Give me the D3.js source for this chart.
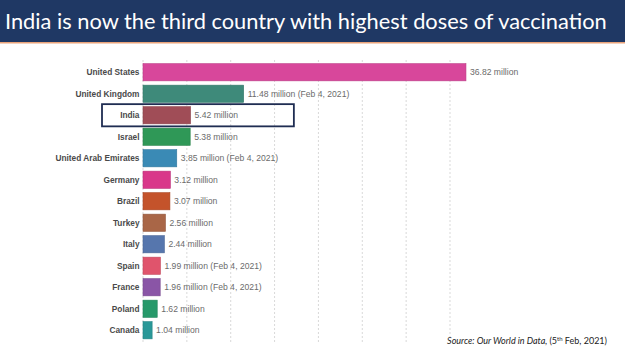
<!DOCTYPE html>
<html><head><meta charset="utf-8">
<script src="https://cdn.jsdelivr.net/npm/d3@7"></script>
<style>
html,body{margin:0;padding:0;background:#fff;}
svg{display:block;}
</style></head>
<body>
<script>
const countries = ["United States","United Kingdom","India","Israel","United Arab Emirates","Germany","Brazil","Turkey","Italy","Spain","France","Poland","Canada"];
const doses = [36.82,11.48,5.42,5.38,3.85,3.12,3.07,2.56,2.44,1.99,1.96,1.62,1.04];
const dateNotes = ["","(Feb 4, 2021)","","","(Feb 4, 2021)","","","","","(Feb 4, 2021)","(Feb 4, 2021)","",""];
const barColors = ["#d8479b","#3e8a7a","#a04d57","#2f9857","#3a8ab5","#d9378a","#c4532b","#a96647","#5676ad","#e0546c","#8a55a6","#27996a","#2a9898"];
const gridTicks = [0,5,10,15,20,25,30,35];
const titleText = "India is now the third country with highest doses of vaccination";
const highlight = "India";

const W = 625, H = 351;
const svg = d3.select("body").append("svg").attr("width", W).attr("height", H);

// title band
svg.append("rect").attr("x",0).attr("y",0).attr("width",W).attr("height",42).attr("fill","#1f3864");
svg.append("rect").attr("x",0).attr("y",42).attr("width",W).attr("height",1.5).attr("fill","#e9a37a");
const t = svg.append("text").attr("x",5).attr("y",29).attr("fill","#fff")
  .attr("font-family","Lato, 'Open Sans', sans-serif").attr("font-size",24).text(titleText);
const tw = t.node().getComputedTextLength();
t.attr("font-size", 24*602/tw);

const x = d3.scaleLinear().domain([0,35]).range([143,450]);
const y = d3.scaleBand().domain(countries).range([61.5,341]).paddingInner(0.2).paddingOuter(0.1);

// grid
svg.append("g").selectAll("line").data(gridTicks).join("line")
  .attr("x1",d=>x(d)).attr("x2",d=>x(d)).attr("y1",60).attr("y2",344)
  .attr("stroke","#d9d9d9").attr("stroke-width",1).attr("stroke-dasharray","2,2");

const data = countries.map((c,i)=>({c, v:doses[i], note:dateNotes[i], col:barColors[i]}));

// bars
svg.append("g").selectAll("rect").data(data).join("rect")
  .attr("x",x(0)).attr("y",d=>y(d.c)).attr("width",d=>x(d.v)-x(0)).attr("height",y.bandwidth())
  .attr("fill",d=>d.col).attr("stroke",d=>d3.color(d.col).darker(0.4)).attr("stroke-width",0.6);

// country labels
svg.append("g").selectAll("text").data(data).join("text")
  .attr("x",x(0)-3.5).attr("y",d=>y(d.c)+y.bandwidth()/2).attr("dy","0.35em")
  .attr("text-anchor","end").attr("font-family","'Liberation Sans', Arial, sans-serif")
  .attr("font-weight","bold").attr("font-size",8.3).attr("fill","#4a4a4a").text(d=>d.c);

// value labels
svg.append("g").selectAll("text").data(data).join("text")
  .attr("x",d=>x(d.v)+4).attr("y",d=>y(d.c)+y.bandwidth()/2).attr("dy","0.35em")
  .attr("font-family","'Liberation Sans', Arial, sans-serif")
  .attr("font-size",8.6).attr("fill","#6b6b6b")
  .text(d=>d.v.toFixed(2)+" million"+(d.note?" "+d.note:""));

// highlight box
const hb = y(highlight);
svg.append("rect").attr("x",x(0)-41).attr("y",hb-2.5).attr("width",x(17.2)-(x(0)-41)).attr("height",y.bandwidth()+5)
  .attr("fill","none").attr("stroke","#1f2d52").attr("stroke-width",1.8);

// source
const src = svg.append("text").attr("x",607).attr("y",344).attr("text-anchor","end")
  .attr("font-family","Lato, 'Open Sans', sans-serif").attr("font-size",9).attr("fill","#222");
src.append("tspan").attr("font-style","italic").text("Source: Our World in Data, ");
src.append("tspan").text("(5");
src.append("tspan").attr("font-size",6).attr("dy",-3.5).text("th");
src.append("tspan").attr("dy",3.5).text(" Feb, 2021)");
</script>
</body></html>
